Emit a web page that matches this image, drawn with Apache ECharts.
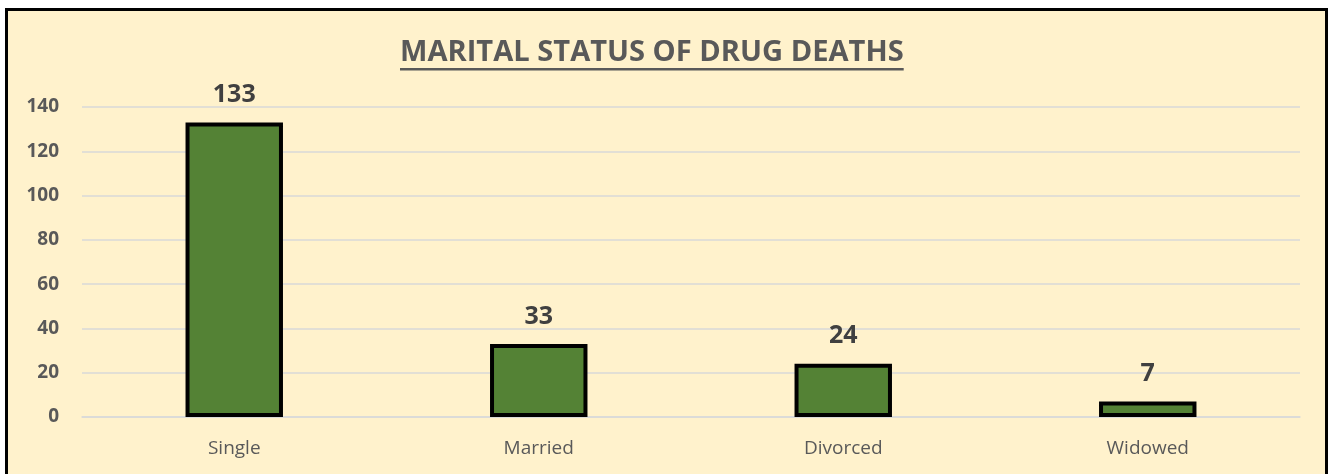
<!DOCTYPE html>
<html>
<head>
<meta charset="utf-8">
<script src="https://cdn.jsdelivr.net/npm/echarts@6/dist/echarts.min.js"></script>
<style>
html,body{margin:0;padding:0;background:#ffffff;width:1333px;height:474px;overflow:hidden;}
#frame{position:absolute;left:5px;top:8px;width:1323px;height:480px;border:3px solid #000;background:#FFF2CC;box-sizing:border-box;}
#chart{position:absolute;left:0;top:0;width:1333px;height:474px;}
</style>
</head>
<body>
<div id="frame"></div>
<div id="chart"></div>
<script>
const titleText = 'MARITAL STATUS OF DRUG DEATHS';
const categories = ['Single', 'Married', 'Divorced', 'Widowed'];
const deaths = [133, 33, 24, 7];
const yTicks = [0, 20, 40, 60, 80, 100, 120, 140];

const FONT = '"Open Sans", sans-serif';
const chart = echarts.init(document.getElementById('chart'), null, {renderer: 'canvas'});

// fit title to target width and measure for underline
const cv = document.createElement('canvas').getContext('2d');
cv.font = 'bold 100px ' + FONT;
const titleSize = Math.round(503 / cv.measureText(titleText).width * 100 * 10) / 10;
cv.font = 'bold ' + titleSize + 'px ' + FONT;
const tw = cv.measureText(titleText).width;
const titleLeft = 400;

chart.setOption({
  backgroundColor: 'transparent',
  animation: false,
  title: {
    text: titleText,
    left: titleLeft,
    top: 38,
    padding: 0,
    textStyle: {fontFamily: FONT, fontWeight: 'bold', fontSize: titleSize, color: '#595959'}
  },
  graphic: [{
    type: 'rect',
    shape: {x: titleLeft, y: 68, width: tw, height: 2.5},
    style: {fill: '#595959'},
    silent: true
  }],
  grid: {left: 82, right: 33, top: 107, bottom: 57},
  xAxis: {
    type: 'category',
    data: categories,
    axisTick: {show: false},
    axisLine: {show: true, lineStyle: {color: '#D9D9D9', width: 1.5}},
    axisLabel: {fontFamily: FONT, fontSize: 19, color: '#595959', margin: 22}
  },
  yAxis: {
    type: 'value',
    min: yTicks[0],
    max: yTicks[yTicks.length - 1],
    interval: 20,
    axisLine: {show: false},
    axisTick: {show: false},
    splitLine: {lineStyle: {color: '#D9D9D9', width: 1.5}},
    axisLabel: {fontFamily: FONT, fontSize: 19, fontWeight: 'bold', color: '#595959', margin: 23}
  },
  series: [{
    type: 'bar',
    data: deaths,
    barWidth: '32%',
    itemStyle: {color: '#548235', borderColor: '#000000', borderWidth: 4},
    label: {
      show: true,
      position: 'top',
      distance: 15,
      fontFamily: FONT,
      fontWeight: 'bold',
      fontSize: 25,
      color: '#404040'
    }
  }]
});
</script>
</body>
</html>
